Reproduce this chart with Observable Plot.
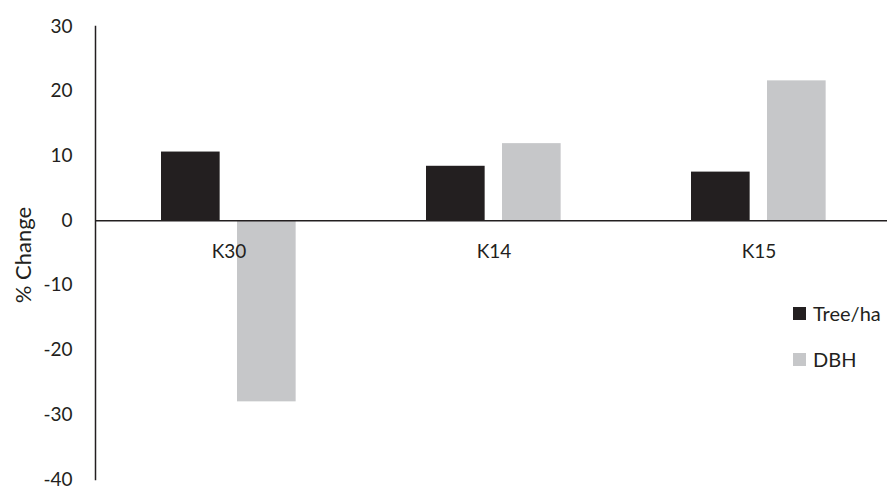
<!DOCTYPE html>
<html>
<head>
<meta charset="utf-8">
<script src="https://cdn.jsdelivr.net/npm/d3@7"></script>
<script src="https://cdn.jsdelivr.net/npm/@observablehq/plot@0.6"></script>
<style>
  html, body { margin: 0; padding: 0; background: #fff; }
  #wrap { position: relative; width: 887px; height: 486px; overflow: hidden; font-family: Lato, "Open Sans", sans-serif; }
  #legend { position: absolute; left: 793px; top: 302px; font-size: 20px; color: #231f20; }
  #legend .item { display: flex; align-items: center; height: 22px; margin-bottom: 24px; white-space: nowrap; }
  #legend .sw { width: 13px; height: 13px; margin-right: 7px; flex: none; }
</style>
</head>
<body>
<div id="wrap"><div id="legend"></div></div>
<script>
const categories = ["K30", "K14", "K15"];
const seriesNames = ["Tree/ha", "DBH"];
const treeHa = [10.6, 8.4, 7.5];
const dbh = [-28.0, 11.9, 21.6];
const seriesColors = ["#231f20", "#c6c7c9"];
const yTicks = [-40, -30, -20, -10, 0, 10, 20, 30];
const yTitle = "% Change";

const rows = categories.flatMap((c, i) => [
  {category: c, series: seriesNames[0], value: treeHa[i]},
  {category: c, series: seriesNames[1], value: dbh[i]}
]);

const ink = "#231f20";

const chart = Plot.plot({
  width: 887,
  height: 486,
  marginLeft: 95,
  marginRight: 0,
  marginTop: 26,
  marginBottom: 7,
  style: {fontFamily: "Lato, 'Open Sans', sans-serif", fontSize: "19px", color: ink, background: "transparent"},
  x: {type: "band", domain: categories, range: [95, 892.6], padding: 0, axis: null},
  y: {domain: [-40, 30], range: [479, 26]},
  color: {domain: seriesNames, range: seriesColors},
  marks: [
    Plot.barY(rows.filter(d => d.series === seriesNames[0]), {
      x: "category", y: "value", fill: "series", insetLeft: 65, insetRight: 141.35
    }),
    Plot.barY(rows.filter(d => d.series === seriesNames[1]), {
      x: "category", y: "value", fill: "series", insetLeft: 141, insetRight: 65.35
    }),
    Plot.ruleY([0], {stroke: ink, strokeWidth: 1.5}),
    Plot.frame({anchor: "left", stroke: ink, strokeWidth: 1.5}),
    Plot.axisY({
      ticks: yTicks, tickSize: 0, tickPadding: 23, tickFormat: d => String(d),
      fontSize: 19, fill: ink, label: null
    }),
    Plot.text([yTitle], {
      text: d => d, frameAnchor: "left", rotate: -90, dx: -72, dy: 2,
      fontSize: 22, fill: ink, lineAnchor: "middle", textAnchor: "middle"
    }),
    Plot.text(categories, {x: d => d, y: () => 0, dy: 31, fill: ink, fontSize: 19})
  ]
});

const wrap = document.getElementById("wrap");
wrap.insertBefore(chart, wrap.firstChild);

const legend = document.getElementById("legend");
seriesNames.forEach((name, i) => {
  const item = document.createElement("div");
  item.className = "item";
  const sw = document.createElement("span");
  sw.className = "sw";
  sw.style.background = seriesColors[i];
  const label = document.createElement("span");
  label.textContent = name;
  item.appendChild(sw);
  item.appendChild(label);
  legend.appendChild(item);
});
</script>
</body>
</html>
